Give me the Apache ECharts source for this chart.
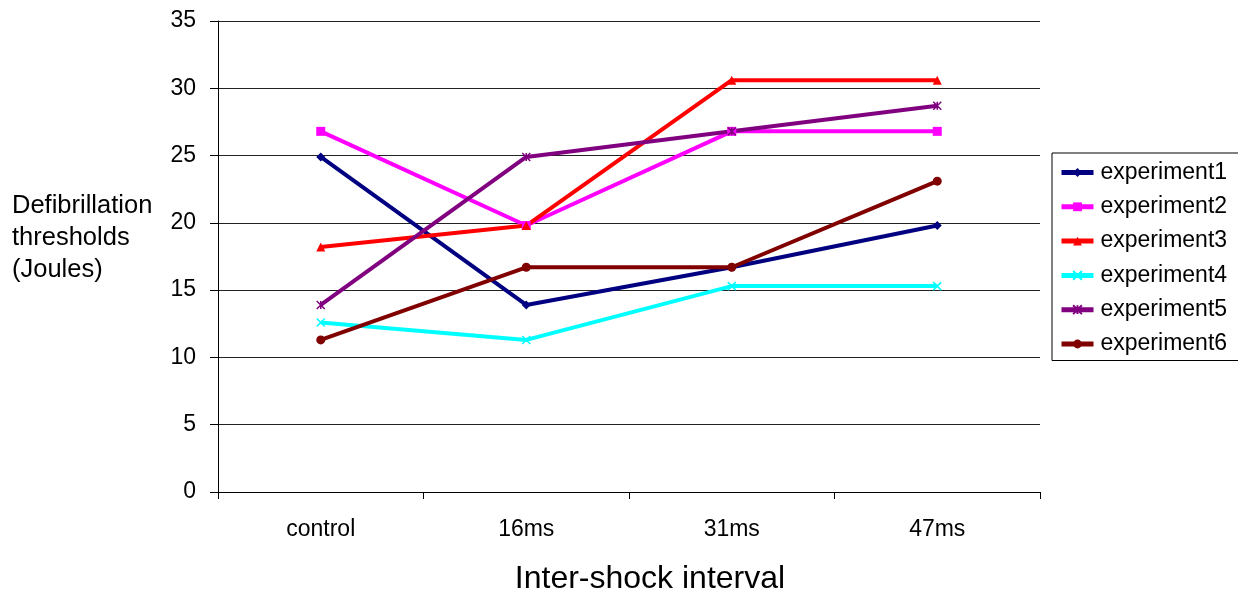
<!DOCTYPE html>
<html>
<head>
<meta charset="utf-8">
<script src="https://cdn.jsdelivr.net/npm/echarts@6/dist/echarts.min.js"></script>
<style>
  html, body { margin: 0; padding: 0; background: #fff; }
  #chart { width: 1238px; height: 593px; }
</style>
</head>
<body>
<div id="chart"></div>
<script>
// Inter-shock interval categories
const categories = ['control', '16ms', '31ms', '47ms'];

// Defibrillation thresholds (Joules) per experiment
const experiment1 = [24.9, 13.9, 16.7, 19.8];
const experiment2 = [26.8, 19.8, 26.8, 26.8];
const experiment3 = [18.2, 19.8, 30.6, 30.6];
const experiment4 = [12.6, 11.3, 15.3, 15.3];
const experiment5 = [13.9, 24.9, 26.8, 28.7];
const experiment6 = [11.3, 16.7, 16.7, 23.1];

const yTicks = { min: 0, max: 35, interval: 5 };

const crossPath = 'path://M0,0L10,10M10,0L0,10';
const starPath = 'path://M0,0L10,10M10,0L0,10M5,0L5,10';

const seriesDefs = [
  { name: 'experiment1', data: experiment1, color: '#000080', symbol: 'diamond', size: 9 },
  { name: 'experiment2', data: experiment2, color: '#FF00FF', symbol: 'rect', size: 9 },
  { name: 'experiment3', data: experiment3, color: '#FF0000', symbol: 'triangle', size: 9 },
  { name: 'experiment4', data: experiment4, color: '#00FFFF', symbol: crossPath, size: 8, stroke: true },
  { name: 'experiment5', data: experiment5, color: '#800080', symbol: starPath, size: 8, stroke: true },
  { name: 'experiment6', data: experiment6, color: '#800000', symbol: 'circle', size: 9 }
];

const chart = echarts.init(document.getElementById('chart'));
const font = 'Liberation Sans, Arial, sans-serif';

chart.setOption({
  backgroundColor: '#fff',
  animation: false,
  grid: { left: 218, right: 198, top: 21, bottom: 101, outerBoundsMode: 'none', containLabel: false },
  xAxis: {
    type: 'category',
    data: categories,
    boundaryGap: true,
    axisLine: { lineStyle: { color: '#000', width: 1 } },
    axisTick: { show: true, length: 7, lineStyle: { color: '#000' } },
    axisLabel: { color: '#000', fontSize: 23, fontFamily: font, margin: 26 },
    name: 'Inter-shock interval',
    nameLocation: 'middle',
    nameGap: 71,
    nameTextStyle: { color: '#000', fontSize: 32, fontFamily: font, padding: [0, 0, 0, 42] }
  },
  yAxis: {
    type: 'value',
    min: yTicks.min,
    max: yTicks.max,
    interval: yTicks.interval,
    axisLine: { show: true, lineStyle: { color: '#000', width: 1 } },
    axisTick: { show: true, length: 8, lineStyle: { color: '#000' } },
    axisLabel: { color: '#000', fontSize: 23, fontFamily: font, margin: 22, padding: [5, 0, 0, 0] },
    splitLine: { show: true, lineStyle: { color: '#222', width: 1 } }
  },
  legend: {
    orient: 'vertical',
    left: 1052,
    top: 153,
    padding: [8, 30, 5, 7],
    borderColor: '#000',
    borderWidth: 1,
    itemWidth: 32,
    itemHeight: 11,
    itemGap: 11.3,
    lineStyle: { width: 5 },
    textStyle: { color: '#000', fontSize: 23, fontFamily: font, padding: [0, 0, 0, 2] },
    data: seriesDefs.map(s => s.name)
  },
  graphic: [
    {
      type: 'text',
      left: 12,
      top: 190,
      style: {
        text: 'Defibrillation\nthresholds\n(Joules)',
        fontSize: 25.5,
        lineHeight: 32,
        fontFamily: font,
        fill: '#000'
      }
    }
  ],
  series: seriesDefs.map(s => ({
    name: s.name,
    type: 'line',
    data: s.data,
    symbol: s.symbol,
    symbolSize: s.size,
    showSymbol: true,
    lineStyle: { color: s.color, width: 4 },
    itemStyle: s.stroke
      ? { color: s.color, borderColor: s.color, borderWidth: 1.5 }
      : { color: s.color, borderWidth: 0 },
    emphasis: { disabled: true }
  }))
});
</script>
</body>
</html>
